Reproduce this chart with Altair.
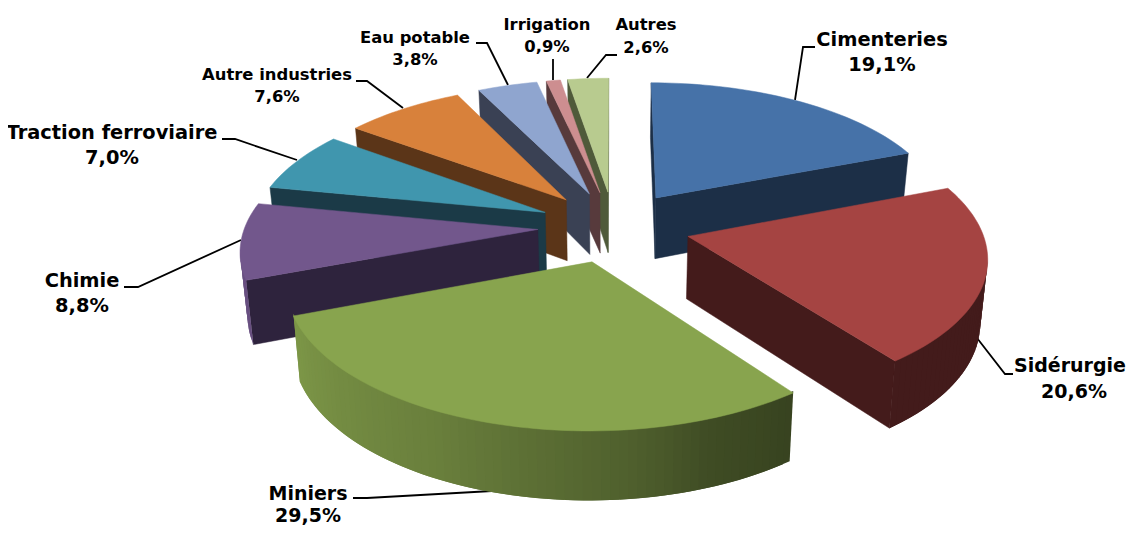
import math
import altair as alt

# ---- values
categories = ["Cimenteries", "Sidérurgie", "Miniers", "Chimie", "Traction ferroviaire",
              "Autre industries", "Eau potable", "Irrigation", "Autres"]
shares = [19.1, 20.6, 29.5, 8.8, 7.0, 7.6, 3.8, 0.9, 2.6]
share_labels = ["19,1%", "20,6%", "29,5%", "8,8%", "7,0%", "7,6%", "3,8%", "0,9%", "2,6%"]
top_colors = ["#4672a8", "#a54442", "#88a44e", "#72578c", "#4096ae", "#d8813b", "#8fa5cf", "#cd8e90", "#b8cb8f"]
wall_colors = ["#1c2f47", "#441b1b", "#38431c", "#2e233d", "#1b3a47", "#5b3518", "#3a4154", "#573a3c", "#4f5a3a"]

# label centres and sizes in page pixels
label_x = [882, 1070, 308, 82, 112, 277, 415, 547, 646]
label_x2 = [882, 1074, 308, 82, 112, 277, 415, 547, 646]
label_y1 = [40, 366, 494, 281, 133, 75, 38, 25, 25]
label_y2 = [65, 392, 516, 306, 158, 97, 60, 47, 48]
label_size = [19.4, 19, 19, 19.4, 19.4, 16.4, 16.4, 16.4, 16.4]

leaders = [
    [(795, 100), (803, 47), (815, 47)],
    [(977, 338), (1005, 374), (1013, 374)],
    [(492, 491), (367, 498), (353, 498)],
    [(241, 240), (138, 287), (124, 287)],
    [(297, 160), (235, 139), (222, 139)],
    [(403, 108), (367, 81), (356, 81)],
    [(508, 85), (487, 43), (476, 43)],
    [(553, 80), (553, 59)],
    [(587, 78), (606, 55), (617, 55)],
]

# ---- view model of the tilted pie
CX, CY, RX, RY, PERSP, EXPLODE = 614, 226.5, 293, 137, 0.13, 0.26
SHADE_T = [0, 143, 160, 172, 207, 249, 290, 360]
SHADE_V = [0.41, 0.41, 0.47, 0.58, 0.78, 0.92, 0.90, 0.90]
OFF = 8
W, H = 1118, 519


def hex_scale(c, f):
    r, g, b = (int(c[i:i + 2], 16) for i in (1, 3, 5))
    return "#%02x%02x%02x" % (int(r * f), int(g * f), int(b * f))


def shade(t):
    for i in range(len(SHADE_T) - 1):
        if SHADE_T[i] <= t <= SHADE_T[i + 1]:
            q = (t - SHADE_T[i]) / (SHADE_T[i + 1] - SHADE_T[i])
            return SHADE_V[i] + q * (SHADE_V[i + 1] - SHADE_V[i])
    return SHADE_V[-1]


def top_pt(u, v):
    s = 1 / (1 + PERSP * v)
    return (CX + RX * u * s, CY - RY * v * s)


def bot_pt(u, v):
    x, y = top_pt(u, v)
    return (CX + (x - CX) * 0.98, y + 62 - 6 * v)


def feat(points, fill, sw=0.5):
    ring = [[p[0] - OFF, p[1] - OFF] for p in points]
    ring.append(ring[0])
    return {"type": "Feature", "properties": {"fill": fill, "sw": sw},
            "geometry": {"type": "Polygon", "coordinates": [ring]}}


total = sum(shares)
acc = 0
slices = []
for i, val in enumerate(shares):
    a0 = acc / total * 360
    acc += val
    a1 = acc / total * 360
    slices.append((i, a0, a1))

features = []
# painter's order: back small slices, going round to the front ones
for i, a0, a1 in [slices[k] for k in (8, 7, 6, 5, 4, 3, 0, 1, 2)]:
    mid = math.radians((a0 + a1) / 2)
    du, dv = EXPLODE * math.sin(mid), EXPLODE * math.cos(mid)
    n = max(2, int((a1 - a0) / 1.5))
    ts = [a0 + (a1 - a0) * j / n for j in range(n + 1)]
    uv = [(du + math.sin(math.radians(t)), dv + math.cos(math.radians(t))) for t in ts]
    A, Ab = top_pt(du, dv), bot_pt(du, dv)
    # radial walls, only when they face the viewer
    O, Ob = top_pt(*uv[0]), bot_pt(*uv[0])
    if (O[0] - A[0]) * (Ab[1] - A[1]) - (O[1] - A[1]) * (Ab[0] - A[0]) < 0:
        features.append(feat([A, O, Ob, Ab], wall_colors[i]))
    O, Ob = top_pt(*uv[-1]), bot_pt(*uv[-1])
    if (O[0] - A[0]) * (Ab[1] - A[1]) - (O[1] - A[1]) * (Ab[0] - A[0]) > 0:
        features.append(feat([A, O, Ob, Ab], wall_colors[i]))
    # outer wall, strip by strip: each strip overlaps the next one so no seams appear
    for j in range(n):
        p1, p2 = top_pt(*uv[j]), top_pt(*uv[j + 1])
        if p2[0] < p1[0]:
            k = min(j + 2, n)
            p3 = top_pt(*uv[k])
            features.append(feat([(p1[0], p1[1] - 2), (p3[0], p3[1] - 2), bot_pt(*uv[k]), bot_pt(*uv[j])],
                                 hex_scale(top_colors[i], shade((ts[j] + ts[j + 1]) / 2)), 0))
    # top face
    features.append(feat([A] + [top_pt(*q) for q in uv], top_colors[i]))

line_features = [{"type": "Feature", "properties": {},
                  "geometry": {"type": "LineString",
                               "coordinates": [[p[0] - OFF, p[1] - OFF] for p in pts]}}
                 for pts in leaders]

rows = []
for i, c in enumerate(categories):
    rows.append({"t": c, "x": label_x[i] - OFF, "y": label_y1[i] - OFF, "s": label_size[i]})
    rows.append({"t": share_labels[i], "x": label_x2[i] - OFF, "y": label_y2[i] - OFF, "s": label_size[i]})

proj = alt.Projection(type="identity", scale=1, translate=[0, 0])

pie = alt.Chart(alt.Data(values=features)).mark_geoshape().encode(
    fill=alt.Fill("properties.fill:N", scale=None),
    stroke=alt.Stroke("properties.fill:N", scale=None),
    strokeWidth=alt.StrokeWidth("properties.sw:Q", scale=None),
).project(**proj.to_dict())

lines = alt.Chart(alt.Data(values=line_features)).mark_geoshape(
    filled=False, stroke="black", strokeWidth=1.8
).project(**proj.to_dict())

text = alt.Chart(alt.Data(values=rows)).mark_text(
    font="DejaVu Sans", fontWeight="bold", color="black", align="center", baseline="middle"
).encode(
    x=alt.X("x:Q", scale=alt.Scale(domain=[0, W], range=[0, W]), axis=None),
    y=alt.Y("y:Q", scale=alt.Scale(domain=[0, H], range=[0, H]), axis=None),
    text="t:N",
    size=alt.Size("s:Q", scale=None, legend=None),
)

chart = alt.layer(lines, pie, text).properties(
    width=W, height=H, padding=0, autosize=alt.AutoSizeParams(type="none")
).configure_view(stroke=None)

chart.save("out.html", embed_options={"renderer": "svg", "actions": False})
